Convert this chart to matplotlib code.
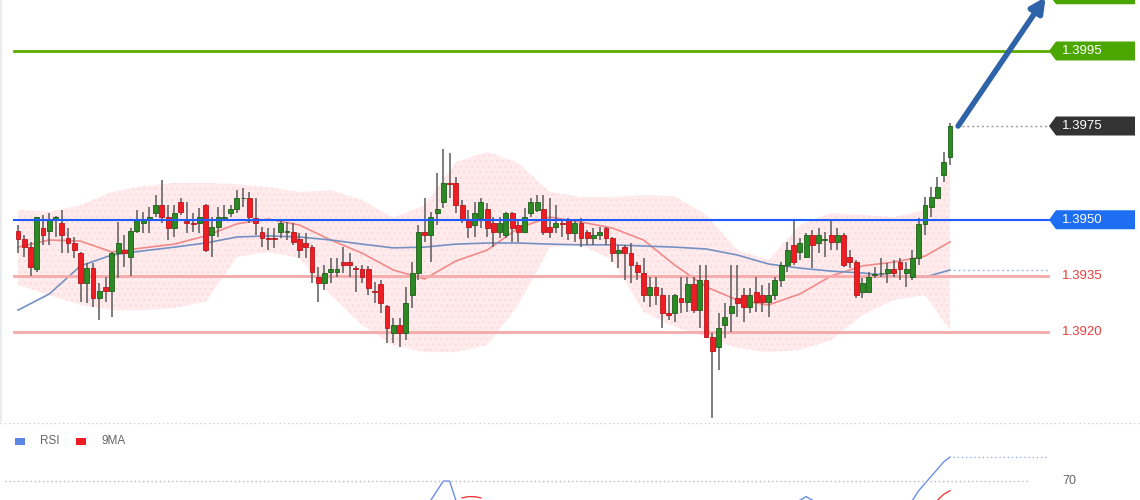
import numpy as np
import matplotlib.pyplot as plt
import matplotlib.transforms as mtransforms
from matplotlib.patches import Polygon, Rectangle

plt.rcParams['font.family'] = ['Liberation Sans', 'DejaVu Sans']

# OHLC candles
opens = [
    1.39470, 1.39449, 1.39427, 1.39369, 1.39478, 1.39470, 1.39499, 1.39491, 1.39451, 1.39438,
    1.39411, 1.39331, 1.39371, 1.39291, 1.39321, 1.39310, 1.39411, 1.39419, 1.39401, 1.39470,
    1.39491, 1.39499, 1.39518, 1.39539, 1.39507, 1.39478, 1.39547, 1.39497, 1.39491, 1.39491,
    1.39539, 1.39459, 1.39481, 1.39505, 1.39518, 1.39529, 1.39557, 1.39558, 1.39505, 1.39467,
    1.39451, 1.39451, 1.39467, 1.39467, 1.39467, 1.39449, 1.39438, 1.39427, 1.39347, 1.39331,
    1.39361, 1.39361, 1.39387, 1.39387, 1.39371, 1.39369, 1.39369, 1.39310, 1.39329, 1.39270,
    1.39198, 1.39219, 1.39198, 1.39299, 1.39358, 1.39467, 1.39459, 1.39518, 1.39547, 1.39598,
    1.39598, 1.39539, 1.39499, 1.39486, 1.39505, 1.39529, 1.39491, 1.39467, 1.39459, 1.39518,
    1.39486, 1.39467, 1.39518, 1.39526, 1.39529, 1.39481, 1.39481, 1.39491, 1.39499, 1.39465,
    1.39491, 1.39467, 1.39451, 1.39459, 1.39478, 1.39451, 1.39411, 1.39427, 1.39411, 1.39379,
    1.39358, 1.39299, 1.39321, 1.39299, 1.39251, 1.39251, 1.39291, 1.39281, 1.39329, 1.39259,
    1.39339, 1.39187, 1.39161, 1.39219, 1.39251, 1.39291, 1.39299, 1.39267, 1.39307, 1.39299,
    1.39281, 1.39299, 1.39339, 1.39379, 1.39433, 1.39414, 1.39401, 1.39459, 1.39438, 1.39446,
    1.39459, 1.39441, 1.39459, 1.39401, 1.39387, 1.39307, 1.39307, 1.39352, 1.39357, 1.39358,
    1.39369, 1.39387, 1.39358, 1.39347, 1.39398, 1.39489, 1.39534, 1.39558, 1.39619, 1.39667]
highs = [
    1.39486, 1.39459, 1.39441, 1.39507, 1.39513, 1.39518, 1.39510, 1.39526, 1.39478, 1.39454,
    1.39414, 1.39385, 1.39385, 1.39331, 1.39347, 1.39414, 1.39494, 1.39459, 1.39478, 1.39526,
    1.39521, 1.39534, 1.39566, 1.39606, 1.39539, 1.39539, 1.39558, 1.39547, 1.39518, 1.39531,
    1.39542, 1.39507, 1.39534, 1.39539, 1.39539, 1.39579, 1.39585, 1.39574, 1.39558, 1.39481,
    1.39478, 1.39478, 1.39499, 1.39494, 1.39491, 1.39465, 1.39465, 1.39433, 1.39374, 1.39379,
    1.39398, 1.39398, 1.39427, 1.39411, 1.39377, 1.39379, 1.39377, 1.39334, 1.39339, 1.39273,
    1.39238, 1.39238, 1.39321, 1.39387, 1.39486, 1.39558, 1.39521, 1.39625, 1.39689, 1.39678,
    1.39614, 1.39553, 1.39526, 1.39547, 1.39558, 1.39545, 1.39507, 1.39507, 1.39521, 1.39521,
    1.39499, 1.39531, 1.39558, 1.39566, 1.39566, 1.39558, 1.39539, 1.39499, 1.39505, 1.39499,
    1.39505, 1.39473, 1.39478, 1.39481, 1.39481, 1.39454, 1.39433, 1.39433, 1.39438, 1.39387,
    1.39398, 1.39347, 1.39347, 1.39318, 1.39299, 1.39302, 1.39347, 1.39347, 1.39347, 1.39379,
    1.39379, 1.39198, 1.39251, 1.39278, 1.39379, 1.39379, 1.39318, 1.39318, 1.39347, 1.39326,
    1.39331, 1.39347, 1.39387, 1.39441, 1.39499, 1.39451, 1.39465, 1.39473, 1.39478, 1.39467,
    1.39499, 1.39478, 1.39465, 1.39419, 1.39393, 1.39345, 1.39361, 1.39374, 1.39398, 1.39385,
    1.39393, 1.39398, 1.39387, 1.39419, 1.39505, 1.39561, 1.39587, 1.39614, 1.39681, 1.39758]
lows = [
    1.39411, 1.39401, 1.39350, 1.39361, 1.39433, 1.39433, 1.39454, 1.39411, 1.39411, 1.39398,
    1.39281, 1.39278, 1.39267, 1.39233, 1.39281, 1.39241, 1.39345, 1.39374, 1.39350, 1.39465,
    1.39465, 1.39465, 1.39507, 1.39491, 1.39446, 1.39454, 1.39513, 1.39465, 1.39467, 1.39465,
    1.39414, 1.39401, 1.39454, 1.39499, 1.39507, 1.39518, 1.39534, 1.39491, 1.39459, 1.39427,
    1.39419, 1.39425, 1.39451, 1.39446, 1.39433, 1.39398, 1.39398, 1.39331, 1.39281, 1.39313,
    1.39331, 1.39347, 1.39358, 1.39347, 1.39307, 1.39331, 1.39299, 1.39278, 1.39251, 1.39171,
    1.39171, 1.39161, 1.39179, 1.39265, 1.39339, 1.39441, 1.39387, 1.39486, 1.39531, 1.39558,
    1.39518, 1.39491, 1.39451, 1.39454, 1.39478, 1.39454, 1.39427, 1.39451, 1.39451, 1.39441,
    1.39441, 1.39465, 1.39507, 1.39521, 1.39459, 1.39451, 1.39465, 1.39454, 1.39446, 1.39441,
    1.39427, 1.39433, 1.39433, 1.39446, 1.39433, 1.39387, 1.39371, 1.39339, 1.39331, 1.39339,
    1.39281, 1.39267, 1.39273, 1.39211, 1.39233, 1.39227, 1.39251, 1.39254, 1.39251, 1.39211,
    1.39185, 1.38971, 1.39099, 1.39185, 1.39201, 1.39241, 1.39227, 1.39251, 1.39254, 1.39254,
    1.39241, 1.39286, 1.39321, 1.39361, 1.39379, 1.39393, 1.39398, 1.39371, 1.39411, 1.39401,
    1.39419, 1.39419, 1.39374, 1.39371, 1.39291, 1.39291, 1.39305, 1.39345, 1.39347, 1.39331,
    1.39347, 1.39339, 1.39321, 1.39339, 1.39379, 1.39459, 1.39507, 1.39555, 1.39601, 1.39646]
closes = [
    1.39449, 1.39427, 1.39374, 1.39507, 1.39459, 1.39499, 1.39507, 1.39459, 1.39438, 1.39419,
    1.39331, 1.39371, 1.39291, 1.39310, 1.39310, 1.39411, 1.39438, 1.39411, 1.39470, 1.39499,
    1.39499, 1.39507, 1.39539, 1.39507, 1.39478, 1.39518, 1.39521, 1.39491, 1.39489, 1.39507,
    1.39419, 1.39481, 1.39507, 1.39507, 1.39529, 1.39558, 1.39558, 1.39507, 1.39491, 1.39451,
    1.39449, 1.39449, 1.39491, 1.39467, 1.39441, 1.39419, 1.39427, 1.39361, 1.39331, 1.39358,
    1.39369, 1.39369, 1.39379, 1.39379, 1.39370, 1.39347, 1.39318, 1.39307, 1.39278, 1.39211,
    1.39219, 1.39198, 1.39278, 1.39358, 1.39467, 1.39459, 1.39507, 1.39529, 1.39598, 1.39595,
    1.39539, 1.39499, 1.39481, 1.39518, 1.39547, 1.39478, 1.39467, 1.39491, 1.39518, 1.39478,
    1.39467, 1.39507, 1.39547, 1.39547, 1.39467, 1.39467, 1.39491, 1.39490, 1.39465, 1.39491,
    1.39451, 1.39451, 1.39459, 1.39467, 1.39451, 1.39411, 1.39419, 1.39411, 1.39379, 1.39361,
    1.39299, 1.39321, 1.39299, 1.39251, 1.39246, 1.39299, 1.39281, 1.39329, 1.39259, 1.39339,
    1.39187, 1.39150, 1.39211, 1.39241, 1.39270, 1.39278, 1.39267, 1.39299, 1.39281, 1.39281,
    1.39299, 1.39339, 1.39379, 1.39419, 1.39387, 1.39438, 1.39459, 1.39433, 1.39459, 1.39447,
    1.39441, 1.39459, 1.39379, 1.39387, 1.39299, 1.39331, 1.39347, 1.39353, 1.39358, 1.39369,
    1.39358, 1.39369, 1.39369, 1.39398, 1.39489, 1.39539, 1.39561, 1.39587, 1.39654, 1.39750]

# indicators, sampled every 5th bar
ind_idx = [0, 5, 10, 15, 20, 25, 30, 35, 40, 45, 50, 55, 60, 65, 70, 75,
           80, 85, 90, 95, 100, 105, 110, 115, 120, 125, 130, 135, 140, 145, 149]
bb_upper = [1.39526, 1.39521, 1.39539, 1.39574, 1.39590, 1.39598, 1.39598, 1.39595,
            1.39587, 1.39574, 1.39579, 1.39553, 1.39505, 1.39539, 1.39654, 1.39681,
            1.39651, 1.39574, 1.39561, 1.39561, 1.39566, 1.39563, 1.39513, 1.39419,
            1.39393, 1.39486, 1.39518, 1.39513, 1.39507, 1.39526, 1.39633]
bb_lower = [1.39326, 1.39299, 1.39273, 1.39259, 1.39259, 1.39265, 1.39281, 1.39401,
            1.39414, 1.39398, 1.39299, 1.39219, 1.39166, 1.39147, 1.39147, 1.39166,
            1.39273, 1.39427, 1.39433, 1.39393, 1.39254, 1.39214, 1.39187, 1.39158,
            1.39147, 1.39153, 1.39179, 1.39246, 1.39286, 1.39299, 1.39206]
ma_red = [1.39427, 1.39446, 1.39443, 1.39414, 1.39425, 1.39435, 1.39457, 1.39489,
          1.39502, 1.39486, 1.39446, 1.39411, 1.39366, 1.39342, 1.39390, 1.39419,
          1.39478, 1.39507, 1.39494, 1.39478, 1.39446, 1.39379, 1.39321, 1.39286,
          1.39273, 1.39302, 1.39350, 1.39377, 1.39387, 1.39403, 1.39441]
ma_blue = [1.39259, 1.39302, 1.39377, 1.39406, 1.39417, 1.39427, 1.39438, 1.39454,
           1.39457, 1.39454, 1.39446, 1.39435, 1.39425, 1.39427, 1.39435, 1.39438,
           1.39438, 1.39435, 1.39433, 1.39433, 1.39430, 1.39427, 1.39422, 1.39406,
           1.39382, 1.39371, 1.39363, 1.39358, 1.39350, 1.39347, 1.39366]

# key levels
target_hi = 1.4010
target = 1.3995
last_price = 1.3975
pivot = 1.3950
supports = [1.3935, 1.3920]

# visible bits of the RSI panel (None = gap)
rsi_idx = [66, 67, 68, 69, 70, None, 125, 126, 127, None, 143, 144, 145, 146, 147, 148, 149]
rsi_val = [62, 66, 70, 70, 62, None, 62, 63.5, 62, None, 62, 66, 69, 72, 75, 78, 80]
rsi_ma_idx = [71, 72, 73, 74, None, 147, 148, 149]
rsi_ma_val = [63, 63.5, 63.5, 63, None, 62, 64.5, 66]

W, H = 1140, 500
bar_px, x0_px = 6.255, 18          # candle spacing / first candle in pixels
xlim = (-x0_px / bar_px, (W - x0_px) / bar_px)

fig = plt.figure(figsize=(W / 100, H / 100), dpi=100)
ax = fig.add_axes([0, 78 / H, 1, 422 / H])
ax2 = fig.add_axes([0, 0, 1, 77 / H])

o, h, l, c = (np.array(a) for a in (opens, highs, lows, closes))
idx = np.arange(len(o))

# bollinger band + moving averages
plt.rcParams['hatch.linewidth'] = 0.6
ax.fill_between(ind_idx, bb_lower, bb_upper, facecolor='#ffeaec', edgecolor='#fbd7dc',
                hatch='...', linewidth=0, zorder=1)
ax.plot(ind_idx, ma_red, color='#f28a8a', lw=1.2, zorder=2)
ax.plot(ind_idx, ma_blue, color='#7591c2', lw=1.2, zorder=2)

# support lines under the candles
for s in supports:
    ax.axhline(s, xmin=14 / W, xmax=1048 / W, color='#f6a9a9', lw=2, zorder=3)

# candles
up = c >= o
body = np.maximum(np.abs(c - o), 0.00002)
ax.vlines(idx, l, h, color='#5a5a5a', lw=1.1, zorder=4)
ax.bar(idx[up], body[up], bottom=o[up], width=0.78, color='#2b8a23',
       edgecolor='#1f5e19', lw=0.6, zorder=5)
ax.bar(idx[~up], body[~up], bottom=c[~up], width=0.78, color='#ee1d23',
       edgecolor='#b8161b', lw=0.6, zorder=5)

ax.axhline(pivot, xmin=14 / W, xmax=1050 / W, color='#1f5cff', lw=1.5, zorder=6)
ax.axhline(target, xmin=14 / W, xmax=1050 / W, color='#5aad00', lw=2, zorder=6)
ax.axhline(last_price, xmin=957 / W, xmax=1048 / W, color='#9a9a9a', lw=1,
           ls=(0, (1.5, 2)), zorder=6)
ax.axhline(ma_blue[-1], xmin=953 / W, xmax=1048 / W, color='#a8bce0', lw=1,
           ls=(0, (1.5, 2)), zorder=6)
ax.axvline(0.5 / W * (xlim[1] - xlim[0]) + xlim[0], color='#e8ecef', lw=1.5)

# price tags on the right
trans = mtransforms.blended_transform_factory(ax.transAxes, ax.transData)
hh = 9.5 / 37500


def tag(y, text, face):
    tip, left, right = 1049 / W, 1056 / W, 1135 / W
    ax.add_patch(Polygon([(tip, y), (left, y + hh), (right, y + hh), (right, y - hh), (left, y - hh)],
                         closed=True, transform=trans, facecolor=face, edgecolor='none',
                         clip_on=False, zorder=7))
    if text:
        ax.text(1062 / W, y, text, transform=trans, color='white', fontsize=9.5,
                va='center', ha='left', zorder=8)


tag(target_hi, '', '#4ca600')   # its text is off the top edge in the picture
tag(target, '1.3995', '#4ca600')
tag(last_price, '1.3975', '#333333')
tag(pivot, '1.3950', '#1e6ef2')
for s in supports:
    ax.text(1062 / W, s, f'{s:.4f}', transform=trans, color='#ec3b3b', fontsize=9.5,
            va='center', ha='left')

# forecast arrow
ax.annotate('', xy=(164.3, 1.40094), xytext=(150.3, last_price),
            arrowprops=dict(arrowstyle='-|>', color='#2f63a8', lw=4, mutation_scale=22,
                            shrinkA=0, shrinkB=0),
            annotation_clip=False, zorder=9)

ax.set_xlim(*xlim)
ax.set_ylim(1.3995 - 371 / 37500, 1.3995 + 51 / 37500)
ax.axis('off')

# RSI panel
ri = np.array(rsi_idx, dtype=float)
rv = np.array(rsi_val, dtype=float)
mi = np.array(rsi_ma_idx, dtype=float)
mv = np.array(rsi_ma_val, dtype=float)
ax2.plot(ri, rv, color='#6a8ee8', lw=1)
ax2.plot(mi, mv, color='#f03c3c', lw=1)
ax2.axhline(70, xmin=5 / W, xmax=1030 / W, color='#b8b8b8', lw=1, ls=(0, (1, 2)))
ax2.axhline(rsi_val[-1], xmin=953 / W, xmax=1047 / W, color='#9db0e8', lw=1, ls=(0, (1, 2)))
ax2.axhline(94.0, color='#d0d0d0', lw=1, ls=(0, (1, 2)))
ax2.text(1062 / W, 70, '70', transform=mtransforms.blended_transform_factory(ax2.transAxes, ax2.transData),
         color='#666666', fontsize=9, va='center', ha='left')
ax2.add_patch(Rectangle((15 / W, 0.72), 10 / W, 0.09, transform=ax2.transAxes,
                        facecolor='#5b86e6', edgecolor='none'))
ax2.text(40 / W, 0.765, 'RSI', transform=ax2.transAxes, color='#666666', fontsize=8.5, va='center')
ax2.add_patch(Rectangle((76 / W, 0.72), 10 / W, 0.09, transform=ax2.transAxes,
                        facecolor='#ee1d23', edgecolor='none'))
ax2.text(101 / W, 0.765, '9MA', transform=ax2.transAxes, color='#666666', fontsize=8.5, va='center')
ax2.set_xlim(*xlim)
ax2.set_ylim(62.1, 94.2)
ax2.axis('off')

fig.savefig('out.png', dpi=100)
